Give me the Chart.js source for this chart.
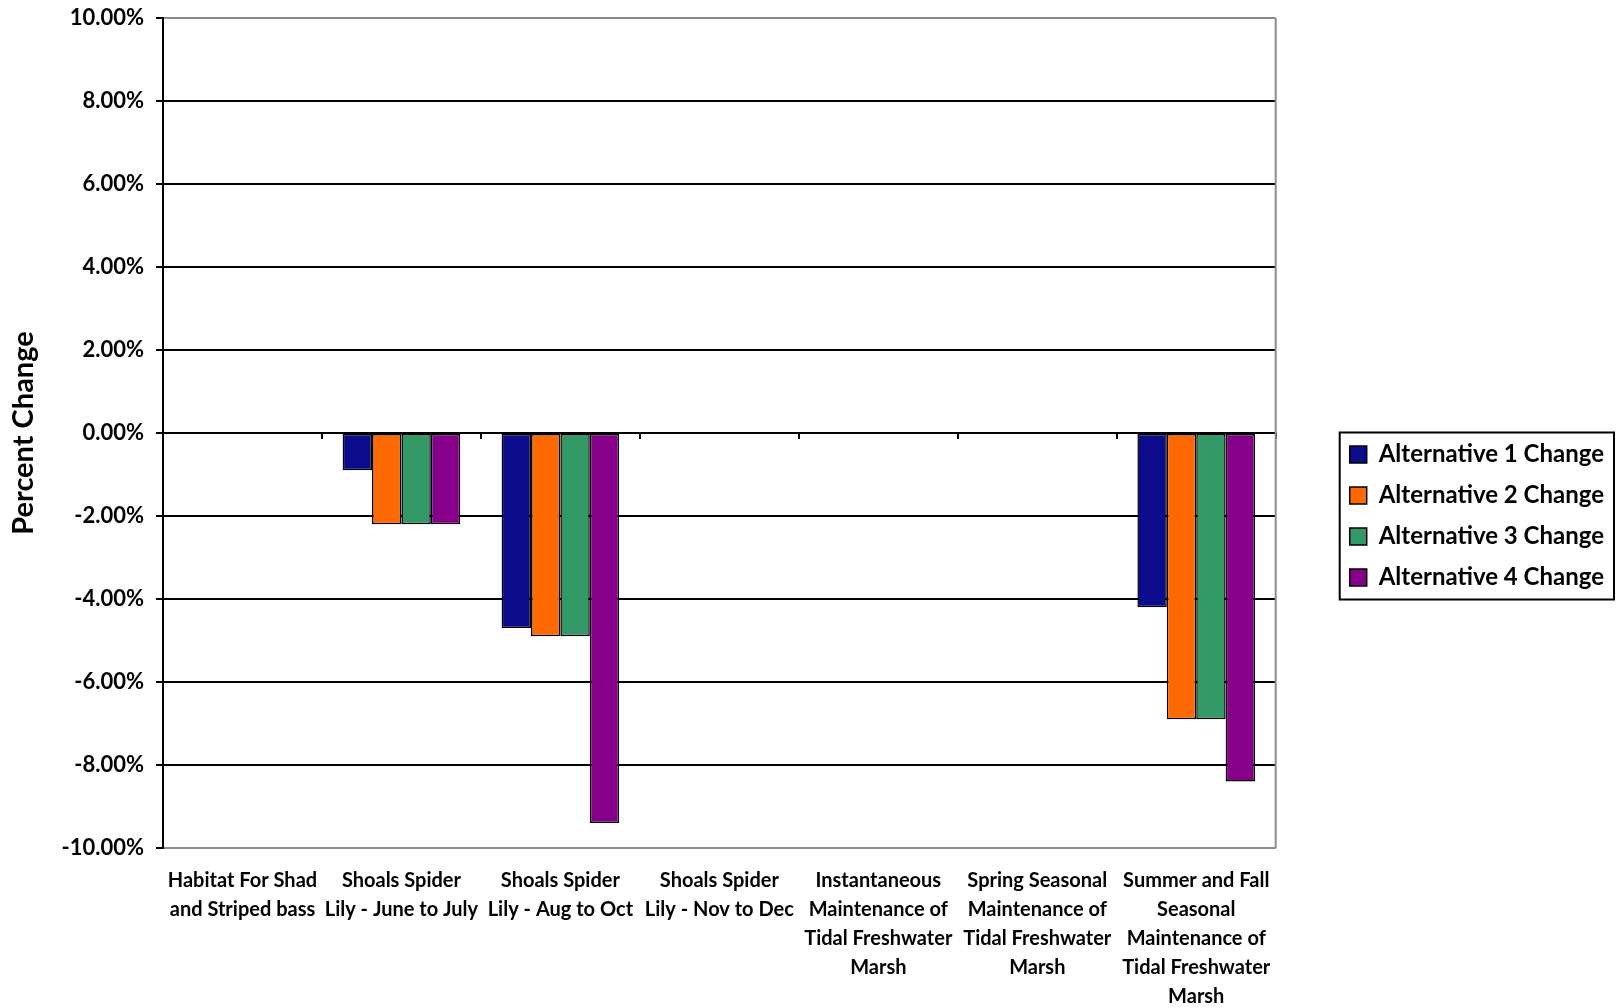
<!DOCTYPE html>
<html>
<head>
<meta charset="utf-8">
<script src="https://cdn.jsdelivr.net/npm/chart.js@4.4.1/dist/chart.umd.min.js"></script>
<style>
  html, body { margin: 0; padding: 0; background: #ffffff; }
  #wrap { width: 1618px; height: 1008px; }
</style>
</head>
<body>
<div id="wrap"><canvas id="c" width="1618" height="1008"></canvas></div>
<script>
// Categories (multi-line labels)
const categories = [
  ["Habitat For Shad", "and Striped bass"],
  ["Shoals Spider", "Lily - June to July"],
  ["Shoals Spider", "Lily - Aug to Oct"],
  ["Shoals Spider", "Lily - Nov to Dec"],
  ["Instantaneous", "Maintenance of", "Tidal Freshwater", "Marsh"],
  ["Spring Seasonal", "Maintenance of", "Tidal Freshwater", "Marsh"],
  ["Summer and Fall", "Seasonal", "Maintenance of", "Tidal Freshwater", "Marsh"]
];

// Percent change per alternative
const alt1 = [0, -0.9, -4.7, 0, 0, 0, -4.2];
const alt2 = [0, -2.2, -4.9, 0, 0, 0, -6.9];
const alt3 = [0, -2.2, -4.9, 0, 0, 0, -6.9];
const alt4 = [0, -2.2, -9.4, 0, 0, 0, -8.4];

const seriesNames = ["Alternative 1 Change", "Alternative 2 Change", "Alternative 3 Change", "Alternative 4 Change"];
const seriesColors = ["#0b0b8c", "#ff6a00", "#339966", "#86008a"];

const yMin = -10, yMax = 10, yStep = 2;

const FONT = "Lato, 'Open Sans', sans-serif";
const LEGEND_GAP = 57; // space between plot frame and legend

// Leaves a gap to the left of the legend and frames its entries
const legendBox = {
  id: 'legendBox',
  beforeLayout(chart) {
    const lg = chart.legend;
    if (lg && !lg.__gapped) {
      const fit = lg.fit;
      lg.fit = function () { fit.call(this); this.width += LEGEND_GAP; };
      lg.__gapped = true;
    }
  },
  afterLayout(chart) {
    if (chart.legend) chart.legend.left += LEGEND_GAP;
  },
  afterDraw(chart) {
    const lg = chart.legend;
    if (!lg || !lg.legendHitBoxes || !lg.legendHitBoxes.length) return;
    let l = Infinity, t = Infinity, r = -Infinity, b = -Infinity;
    lg.legendHitBoxes.forEach(h => {
      l = Math.min(l, h.left); t = Math.min(t, h.top);
      r = Math.max(r, h.left + h.width); b = Math.max(b, h.top + h.height);
    });
    const ctx = chart.ctx;
    ctx.save();
    ctx.strokeStyle = '#000';
    ctx.lineWidth = 2;
    ctx.strokeRect(l - 10, t - 10, (r - l) + 20, (b - t) + 20);
    ctx.restore();
  }
};

// Grey frame line on the right side of the plot area
const plotFrame = {
  id: 'plotFrame',
  beforeDatasetsDraw(chart) {
    const a = chart.chartArea, ctx = chart.ctx;
    ctx.save();
    ctx.strokeStyle = '#8c8c8c';
    ctx.lineWidth = 2;
    ctx.beginPath();
    ctx.moveTo(a.right, a.top);
    ctx.lineTo(a.right, a.bottom);
    ctx.stroke();
    ctx.restore();
  }
};

const datasets = [alt1, alt2, alt3, alt4].map((d, i) => ({
  label: seriesNames[i],
  data: d,
  backgroundColor: seriesColors[i],
  borderColor: '#000',
  borderWidth: 1.5,
  borderSkipped: false,
  barPercentage: 1.0,
  categoryPercentage: 0.74
}));

new Chart(document.getElementById('c'), {
  type: 'bar',
  data: { labels: categories, datasets },
  options: {
    responsive: false,
    animation: false,
    devicePixelRatio: 1,
    layout: { padding: { top: 0, left: 6, right: 4, bottom: 2 } },
    plugins: {
      tooltip: { enabled: false },
      legend: {
        position: 'right',
        align: 'center',
        title: { display: true, text: '', padding: 7, font: { size: 10 } },
        labels: {
          color: '#000',
          font: { family: FONT, size: 24, weight: 'bold' },
          boxWidth: 17,
          boxHeight: 17,
          padding: 17
        }
      }
    },
    scales: {
      x: {
        type: 'category',
        position: 'bottom',
        grid: { display: false },
        border: { display: true, color: '#8c8c8c', width: 2 },
        ticks: {
          color: '#000',
          maxRotation: 0, minRotation: 0, autoSkip: false,
          padding: 10,
          font: { family: FONT, size: 20, weight: 'bold', lineHeight: 1.45 }
        },
        afterFit(scale) { scale.height = 158; }
      },
      x0: {
        type: 'category',
        position: { y: 0 },
        offset: true,
        grid: { display: true, offset: true, drawOnChartArea: false, drawTicks: true, tickLength: 6, color: '#000', lineWidth: 2 },
        border: { display: false },
        ticks: { display: false }
      },
      y: {
        type: 'linear',
        min: yMin, max: yMax,
        position: 'left',
        ticks: {
          stepSize: yStep,
          color: '#000',
          padding: 12,
          font: { family: FONT, size: 22, weight: 'bold' },
          callback: v => v.toFixed(2) + '%'
        },
        grid: {
          color: ctx => (ctx.tick && Math.abs(ctx.tick.value) === 10) ? '#8c8c8c' : '#000',
          tickColor: '#000',
          lineWidth: 2,
          tickLength: 7
        },
        border: { display: true, color: '#000', width: 2 },
        title: {
          display: true, text: 'Percent Change', color: '#000',
          font: { family: FONT, size: 29, weight: 'bold' }, padding: { top: 0, bottom: 4 }
        },
        afterFit(scale) {
          scale.width = 157;
          scale.paddingTop = 18;
          scale.paddingBottom = 0;
        }
      }
    }
  },
  plugins: [legendBox, plotFrame]
});
</script>
</body>
</html>
